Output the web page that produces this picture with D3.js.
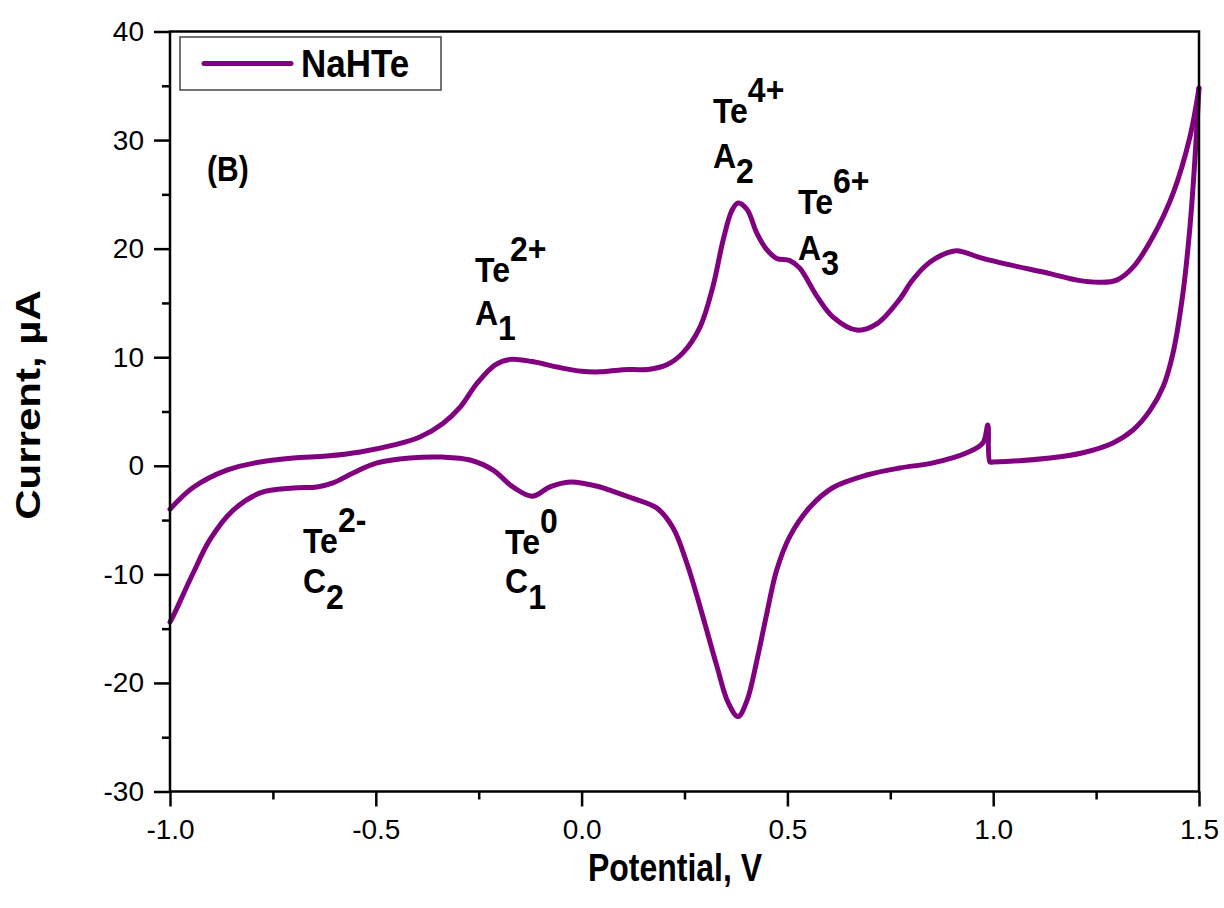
<!DOCTYPE html>
<html>
<head>
<meta charset="utf-8">
<script src="https://cdn.jsdelivr.net/npm/d3@7"></script>
<style>
  html, body { margin: 0; padding: 0; background: #fff; }
  svg { display: block; }
  text { font-family: "Liberation Sans", Arial, sans-serif; fill: #000; }
  .tick text { font-size: 28px; }
  .tall { transform-box: fill-box; transform-origin: center; }
</style>
</head>
<body>
<svg id="chart" width="1224" height="908"></svg>
<script>
// Cyclic voltammogram of NaHTe — forward (anodic) sweep from -1.0 V to 1.5 V
const anodicV = [-1.0, -0.944, -0.862, -0.781, -0.70, -0.619, -0.538, -0.458, -0.393, -0.337, -0.295, -0.254,
  -0.21, -0.174, -0.12, -0.06, 0.0, 0.045, 0.10, 0.166, 0.207, 0.246, 0.288, 0.319, 0.344, 0.365, 0.380,
  0.402, 0.426, 0.45, 0.474, 0.506, 0.53, 0.572, 0.611, 0.669, 0.718, 0.774, 0.80, 0.835, 0.86, 0.888, 0.912,
  0.975, 1.041, 1.138, 1.204, 1.26, 1.30, 1.34, 1.388, 1.437, 1.478, 1.50];
const anodicI = [-4.0, -2.0, -0.4, 0.35, 0.72, 0.9, 1.27, 1.9, 2.65, 3.9, 5.4, 7.6,
  9.3, 9.8, 9.6, 9.1, 8.7, 8.65, 8.85, 8.9, 9.3, 10.4, 12.8, 16.5, 20.8, 23.5, 24.2,
  23.6, 21.4, 19.9, 19.1, 18.9, 18.2, 15.6, 13.7, 12.5, 13.1, 15.4, 16.9, 18.4, 19.1, 19.6, 19.8,
  19.1, 18.5, 17.7, 17.1, 16.9, 17.1, 18.3, 21.1, 25.1, 30.3, 34.8];

// Reverse (cathodic) sweep from 1.5 V back to -1.0 V
const cathodicV = [1.50, 1.49, 1.478, 1.461, 1.437, 1.413, 1.381, 1.34, 1.291, 1.218, 1.138, 1.0, 0.992,
  0.987, 0.975, 0.936, 0.854, 0.773, 0.693, 0.611, 0.555, 0.506, 0.474, 0.45, 0.426, 0.402, 0.380,
  0.356, 0.329, 0.288, 0.256, 0.222, 0.183, 0.125, 0.069, 0.045, -0.028, -0.077, -0.12, -0.167,
  -0.215, -0.271, -0.337, -0.417, -0.497, -0.555, -0.604, -0.643, -0.70, -0.781, -0.847, -0.903,
  -0.944, -0.993, -1.0];
const cathodicI = [34.8, 28.2, 22.0, 15.9, 10.4, 7.3, 5.1, 3.3, 2.1, 1.2, 0.72, 0.35, 0.35,
  3.75, 2.1, 1.2, 0.27, -0.2, -0.85, -2.0, -3.8, -6.5, -9.6, -13.6, -17.9, -21.6, -23.1,
  -21.8, -18.5, -13.0, -9.0, -5.7, -3.9, -3.0, -2.25, -1.95, -1.5, -1.95, -2.8, -1.95,
  -0.4, 0.53, 0.8, 0.72, 0.26, -0.66, -1.58, -1.95, -2.05, -2.5, -4.1, -6.8,
  -9.9, -13.9, -14.4];

// Axis ticks
const xTicks = [-1.0, -0.5, 0.0, 0.5, 1.0, 1.5];
const xTickLabels = ["-1.0", "-0.5", "0.0", "0.5", "1.0", "1.5"];
const xMinorTicks = [-0.75, -0.25, 0.25, 0.75, 1.25];
const yTicks = [-30, -20, -10, 0, 10, 20, 30, 40];
const yTickLabels = ["-30", "-20", "-10", "0", "10", "20", "30", "40"];
const yMinorTicks = [-25, -15, -5, 5, 15, 25, 35];

// Peak annotations: species, peak name, anchor [V, µA]
const peakSpecies = [["Te", "2+"], ["Te", "4+"], ["Te", "6+"], ["Te", "2-"], ["Te", "0"]];
const peakNames = [["A", "1"], ["A", "2"], ["A", "3"], ["C", "2"], ["C", "1"]];
const speciesAt = [[-0.259, 17.1], [0.319, 31.75], [0.526, 23.4], [-0.677, -7.8], [-0.186, -7.95]];
const namesAt = [[-0.259, 13.0], [0.319, 27.5], [0.526, 19.0], [-0.677, -11.7], [-0.186, -11.7]];

const seriesName = "NaHTe";
const panelLabel = "(B)";
const xTitle = "Potential, V";
const yTitle = "Current, \u00B5A";

const W = 1224, H = 908;
const margin = { top: 31.5, right: 25, bottom: 116.5, left: 170 };
const iw = W - margin.left - margin.right;
const ih = H - margin.top - margin.bottom;
const lineColor = "#800080";

const svg = d3.select("#chart");
const g = svg.append("g").attr("transform", `translate(${margin.left},${margin.top})`);

const x = d3.scaleLinear().domain([-1.0, 1.5]).range([0, iw]);
const y = d3.scaleLinear().domain([-30, 40]).range([ih, 0]);

// Stretch text vertically around its own box
function tall(sel, k) {
  sel.classed("tall", true).style("transform", `scaleY(${k})`);
}

// Curves
const anodic = anodicV.map((v, i) => [v, anodicI[i]]);
const cathodic = cathodicV.map((v, i) => [v, cathodicI[i]]);
const line = d3.line().x(d => x(d[0])).y(d => y(d[1])).curve(d3.curveCatmullRom.alpha(0.5));

[anodic, cathodic].forEach(data => {
  g.append("path").datum(data).attr("d", line)
    .attr("fill", "none").attr("stroke", lineColor).attr("stroke-width", 5)
    .attr("stroke-linejoin", "round").attr("stroke-linecap", "round");
});

// Axes (outward ticks on bottom and left only)
const xAxis = d3.axisBottom(x).tickValues(xTicks)
  .tickFormat((d, i) => xTickLabels[i]).tickSizeInner(15).tickSizeOuter(0).tickPadding(13);
const xMinor = d3.axisBottom(x).tickValues(xMinorTicks).tickFormat("").tickSizeInner(8).tickSizeOuter(0);
const yAxis = d3.axisLeft(y).tickValues(yTicks)
  .tickFormat((d, i) => yTickLabels[i]).tickSizeInner(16).tickSizeOuter(0).tickPadding(10);
const yMinor = d3.axisLeft(y).tickValues(yMinorTicks).tickFormat("").tickSizeInner(8).tickSizeOuter(0);

function styleAxis(sel) {
  sel.attr("font-size", 28).attr("font-family", "'Liberation Sans', Arial, sans-serif");
  sel.select(".domain").remove();
  sel.selectAll("line").attr("stroke", "#000").attr("stroke-width", 2.5);
  sel.selectAll("text").attr("font-size", 28).style("font-size", "28px").attr("fill", "#000");
}
g.append("g").attr("transform", `translate(0,${ih})`).call(xAxis).call(styleAxis);
g.append("g").attr("transform", `translate(0,${ih})`).call(xMinor).call(styleAxis);
g.append("g").call(yAxis).call(styleAxis);
g.append("g").call(yMinor).call(styleAxis);

// Frame
g.append("rect").attr("x", 0).attr("y", 0).attr("width", iw).attr("height", ih)
  .attr("fill", "none").attr("stroke", "#000").attr("stroke-width", 2.5);

// Axis titles
svg.append("text").attr("x", 675).attr("y", 879)
  .attr("text-anchor", "middle").attr("font-size", 32).attr("font-weight", "bold")
  .text(xTitle).call(tall, 1.2);
svg.append("text")
  .attr("transform", "translate(40,405) rotate(-90) scale(1.2,1)")
  .attr("text-anchor", "middle").attr("font-size", 35).attr("font-weight", "bold")
  .text(yTitle);

// Legend
const lg = svg.append("g");
lg.append("rect").attr("x", 180).attr("y", 37).attr("width", 261).attr("height", 53)
  .attr("fill", "#fff").attr("stroke", "#444").attr("stroke-width", 1.5);
lg.append("line").attr("x1", 204).attr("x2", 291).attr("y1", 63.5).attr("y2", 63.5)
  .attr("stroke", lineColor).attr("stroke-width", 5).attr("stroke-linecap", "round");
lg.append("text").attr("x", 301).attr("y", 76).attr("font-size", 35).attr("font-weight", "bold")
  .text(seriesName).call(tall, 1.1);

// Panel label
g.append("text").attr("x", x(-0.91)).attr("y", y(26.4))
  .attr("font-size", 30).attr("font-weight", "bold").text(panelLabel).call(tall, 1.15);

// Peak annotations
peakSpecies.forEach((s, i) => {
  const t = g.append("text").attr("x", x(speciesAt[i][0])).attr("y", y(speciesAt[i][1]))
    .attr("font-size", 32).attr("font-weight", "bold");
  t.append("tspan").text(s[0]);
  t.append("tspan").attr("dy", -19).text(s[1]);
  t.call(tall, 1.1);
});
peakNames.forEach((s, i) => {
  const t = g.append("text").attr("x", x(namesAt[i][0])).attr("y", y(namesAt[i][1]))
    .attr("font-size", 32).attr("font-weight", "bold");
  t.append("tspan").text(s[0]);
  t.append("tspan").attr("dy", 14).text(s[1]);
  t.call(tall, 1.1);
});
</script>
</body>
</html>
